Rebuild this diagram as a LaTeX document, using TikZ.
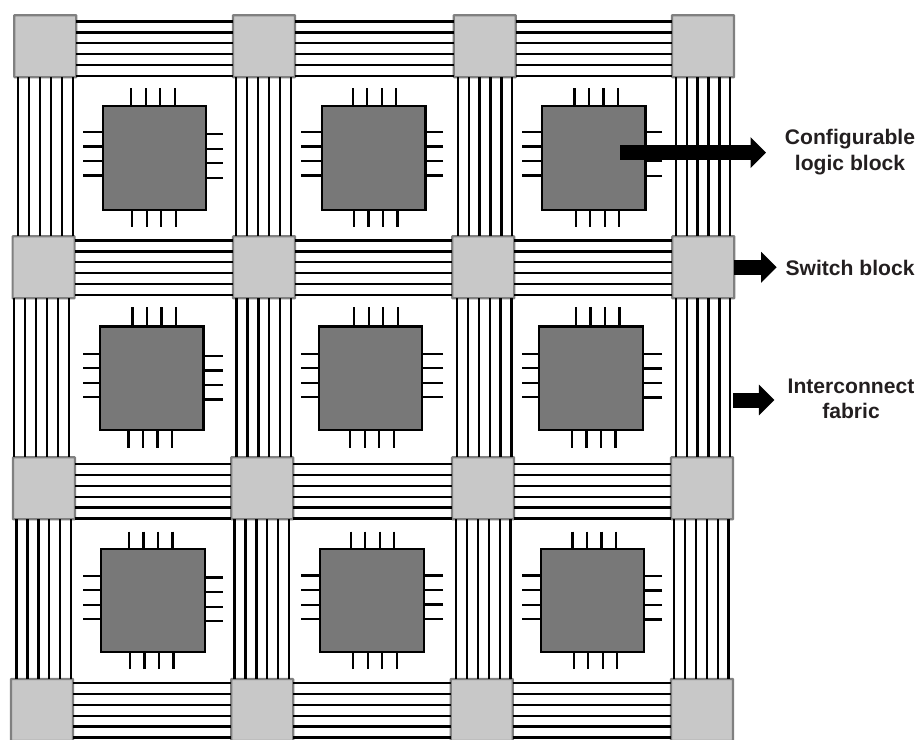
\documentclass[tikz,border=0pt]{standalone}
\usepackage{fontspec}
\setmainfont{Liberation Sans}
\usetikzlibrary{arrows.meta}
\definecolor{switchgray}{HTML}{C8C8C8}
\definecolor{switchedge}{HTML}{808080}
\definecolor{clbgray}{HTML}{787878}
\definecolor{labelink}{HTML}{231F20}
\tikzset{
  switchblock/.style={draw=switchedge, fill=switchgray, line width=2.2pt, rounded corners=0.5pt,
    minimum size=62pt, inner sep=0pt, outer sep=0pt},
  logicblock/.style={draw=black, fill=clbgray, line width=2.4pt, minimum size=103.5pt,
    inner sep=0pt, outer sep=0pt},
  wire/.style={black, line width=2.3pt},
  pinwire/.style={black, line width=2.3pt},
  bigarrow/.style={black, line width=15pt, -{Triangle[length=15.5pt, width=30pt]}},
  calllabel/.style={text=labelink, align=center, inner sep=0pt,
    font=\fontsize{21.1}{25.6}\selectfont\bfseries},
}
\begin{document}
\begin{tikzpicture}[x=1pt, y=-1pt]
        \useasboundingbox (0,0) rectangle (917,739);
        \clip (0,0) rectangle (917,739);
        % Switch blocks
        \foreach \name/\x/\y in {
            sb00/45.3/46.2, sb01/264/46.2, sb02/484.8/46.2, sb03/703/46.2,
            sb10/43.6/267.3, sb11/264/267.3, sb12/483.2/267.3, sb13/703.3/267.3,
            sb20/44/488.3, sb21/262.2/488.3, sb22/483/488.3, sb23/702/488.3,
            sb30/42/710, sb31/262.2/710, sb32/481.7/710, sb33/702/710} {
            \node[switchblock] (\name) at (\x,\y) {};
        }
        % Horizontal wires
        \foreach \r/\yc in {0/48.7, 1/267.7, 2/491.2, 3/710.2} {
            \foreach \c/\d in {0/1, 1/2, 2/3} {
                \foreach \k in {-2.5,-1.5,-0.5,0.5,1.5,2.5} {
                    \coordinate (w) at (0,{\yc+\k*10.9});
                    \draw[wire] (sb\r\c.east |- w) -- (sb\r\d.west |- w);
                }
            }
        }
        % Vertical wires
        \foreach \up/\lo/\xc in {
            sb00/sb10/45.5, sb01/sb11/263.5, sb02/sb12/485, sb03/sb13/703,
            sb10/sb20/41.5, sb11/sb21/263.8, sb12/sb22/484.2, sb13/sb23/703,
            sb20/sb30/43.8, sb21/sb31/261.8, sb22/sb32/483.3, sb23/sb33/701.3} {
            \foreach \k in {-2.5,-1.5,-0.5,0.5,1.5,2.5} {
                \coordinate (w) at ({\xc+\k*10.9},0);
                \draw[wire] (w |- \up.south) -- (w |- \lo.north);
            }
        }
        % Logic blocks and their pins
        \foreach \c/\r/\x/\y/\tx/\bx/\ly/\ry in {
            0/0/154.5/158/153/154/153.8/156,
            1/0/373.7/158/374.5/375.7/153.8/153.8,
            2/0/593.8/158/596.3/597.5/153.8/154,
            0/1/151.7/378.2/154.3/150.2/375.5/377.7,
            1/1/370.5/378.2/376/372/375.5/375.5,
            2/1/591/378.2/597.8/593.8/375.5/375.8,
            0/2/153/600.5/150.8/151.8/597.5/599.4,
            1/2/372/600.5/372.5/375/597.4/597.3,
            2/2/592.5/600.5/594.3/595.5/597.4/597.7} {
            \pgfmathsetmacro\xl{{83,301,522}[\c]}
            \pgfmathsetmacro\xr{{222.5,443,662}[\c]}
            \pgfmathsetmacro\yt{{88,307,531.7}[\r]}
            \pgfmathsetmacro\yb{{226.5,447.5,669}[\r]}
            \node[logicblock] (clb\r\c) at (\x,\y) {};
            \foreach \k in {-1.5,-0.5,0.5,1.5} {
                \coordinate (pt) at ({\tx+\k*14.55},\yt);
                \coordinate (pb) at ({\bx+\k*14.55},\yb);
                \coordinate (pl) at (\xl,{\ly+\k*14.55});
                \coordinate (pr) at (\xr,{\ry+\k*14.55});
                \draw[pinwire] (pt) -- (pt |- clb\r\c.north);
                \draw[pinwire] (pb) -- (pb |- clb\r\c.south);
                \draw[pinwire] (pl) -- (clb\r\c.west |- pl);
                \draw[pinwire] (pr) -- (clb\r\c.east |- pr);
            }
        }
        % Labels
        \node[calllabel] (clblabel) at (850,152) {Configurable\\logic block};
        \node[calllabel] (sblabel) at (850,268) {Switch block};
        \node[calllabel] (fabriclabel) at (851,399) {Interconnect\\fabric};
        % Arrows
        \coordinate (clbstart) at (620,152.7);
        \coordinate (clbtip) at (766,152.7);
        \coordinate (sbtip) at (776.7,267.3);
        \coordinate (fabricstart) at (733.3,400);
        \coordinate (fabrictip) at (774.3,400);
        \draw[bigarrow] (clbstart) -- (clbtip);
        \draw[bigarrow] (sb13.east) -- (sbtip);
        \draw[bigarrow] (fabricstart) -- (fabrictip);
    \end{tikzpicture}
\end{document}
